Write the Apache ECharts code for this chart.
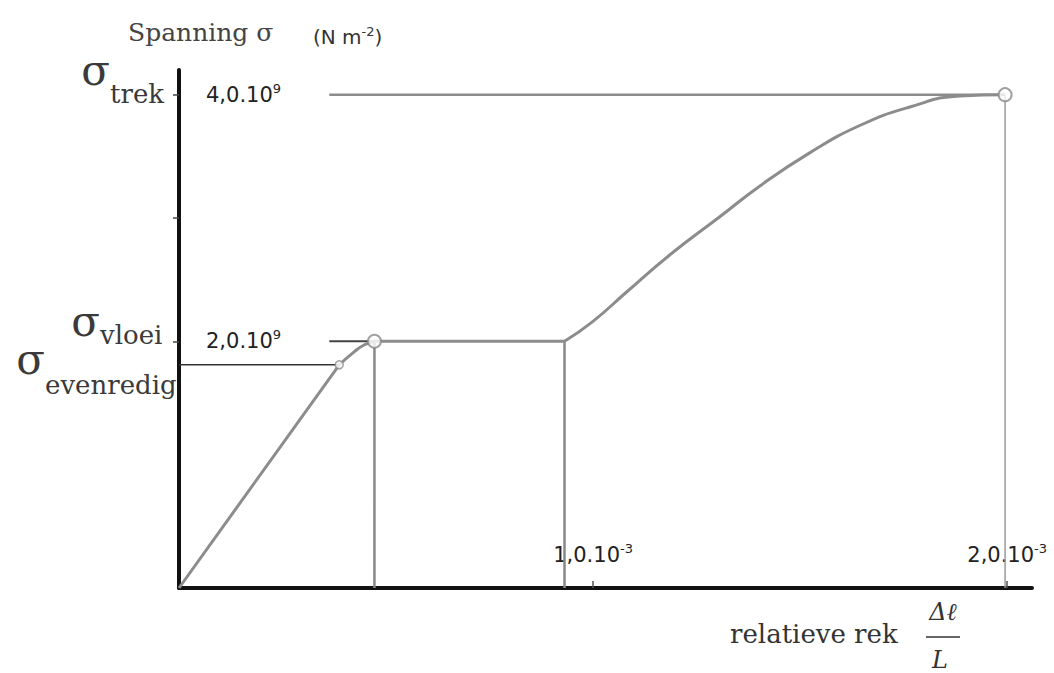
<!DOCTYPE html>
<html>
<head>
<meta charset="utf-8">
<script src="https://cdn.jsdelivr.net/npm/echarts@6/dist/echarts.min.js"></script>
<style>
  html, body { margin: 0; padding: 0; background: #ffffff; }
  #chart { width: 1054px; height: 673px; }
</style>
</head>
<body>
<div id="chart"></div>
<script>
// Schematic stress-strain curve (spanning tegen relatieve rek).
// Strain in units of 10^-3, stress in units of 10^9 N m^-2.

// linear-elastic part up to the proportional limit
const elasticStrain = [0, 0.387];
const elasticStress = [0, 1.81];
// curved transition up to the yield point
const kneeStrain = [0.387, 0.423, 0.447, 0.472];
const kneeStress = [1.81, 1.915, 1.97, 2.0];
// yield plateau
const plateauStrain = [0.472, 0.931];
const plateauStress = [2.0, 2.0];
// strain hardening up to the tensile strength
const hardeningStrain = [0.931, 0.999, 1.081, 1.185, 1.306, 1.403, 1.524, 1.644, 1.765, 1.886, 1.995];
const hardeningStress = [2.0, 2.16, 2.40, 2.70, 3.01, 3.26, 3.53, 3.75, 3.90, 3.99, 4.0];

// characteristic points
const strainProportional = 0.387, stressProportional = 1.81;
const strainYield = 0.472, stressYield = 2.0;
const strainHardening = 0.931;
const strainTensile = 1.995, stressTensile = 4.0;

// tick values and labels
const xTickValues = [1, 2];
const xTickMantissa = ['1,0.10', '2,0.10'];
const xTickExponent = '-3';
const yTickValues = [2, 4];
const yTickMantissa = ['2,0.10', '4,0.10'];
const yTickExponent = '9';
const yTickMarks = [2, 3, 4];

// where the guide lines from the value labels start (strain units)
const guideStart = 0.363;

const zip = (xs, ys) => xs.map((x, i) => [x, ys[i]]);

const SERIF = '"DejaVu Serif", "Liberation Serif", serif';
const SANS = '"DejaVu Sans", "Liberation Sans", sans-serif';

const chart = echarts.init(document.getElementById('chart'), null, { renderer: 'svg' });

function guide(data, color, width) {
  return {
    type: 'line', data: data, symbol: 'none', silent: true, z: 1,
    lineStyle: { color: color, width: width }
  };
}
function curve(data, smooth) {
  return {
    type: 'line', data: data, symbol: 'none', silent: true, z: 3,
    smooth: smooth ? 0.5 : false,
    lineStyle: { color: '#8c8c8c', width: 3 }
  };
}

const numberRich = {
  m: { fontFamily: SANS, fontSize: 21, color: '#222', lineHeight: 26 },
  s: { fontFamily: SANS, fontSize: 13, color: '#222', lineHeight: 13, verticalAlign: 'top' }
};

const option = {
  animation: false,
  backgroundColor: '#ffffff',
  grid: { left: 179, right: 22, top: 70, bottom: 85 },
  xAxis: {
    type: 'value', min: 0, max: 2.06,
    axisLine: { show: true, lineStyle: { color: '#111', width: 4 } },
    splitLine: { show: false },
    axisTick: { show: true, inside: true, length: 7, customValues: xTickValues,
      lineStyle: { color: '#555', width: 1.5 } },
    axisLabel: {
      show: true, inside: true, margin: 20, customValues: xTickValues,
      formatter: v => '{m|' + xTickMantissa[xTickValues.indexOf(v)] + '}{s|' + xTickExponent + '}',
      rich: numberRich
    }
  },
  yAxis: [{
    type: 'value', min: 0, max: 4.2,
    axisLine: { show: true, lineStyle: { color: '#111', width: 4 } },
    splitLine: { show: false },
    axisTick: { show: true, length: 6, customValues: yTickMarks,
      lineStyle: { color: '#444', width: 1.5 } },
    axisLabel: { show: false }
  }, {
    type: 'value', min: 0, max: 4.2, position: 'left',
    axisLine: { show: false }, axisTick: { show: false }, splitLine: { show: false },
    axisLabel: {
      show: true, inside: true, margin: 27, customValues: yTickValues,
      formatter: v => '{m|' + yTickMantissa[yTickValues.indexOf(v)] + '}{s|' + yTickExponent + '}',
      rich: numberRich
    }
  }],
  series: [
    // guide lines to the axes
    guide([[0, stressProportional], [strainProportional, stressProportional]], '#333', 1.5),
    guide([[guideStart, stressYield], [strainYield, stressYield]], '#444', 2),
    guide([[guideStart, stressTensile], [strainTensile, stressTensile]], '#8c8c8c', 2.5),
    guide([[strainYield, stressYield], [strainYield, 0]], '#888', 2.5),
    guide([[strainHardening, stressYield], [strainHardening, 0]], '#888', 2.5),
    guide([[strainTensile, stressTensile], [strainTensile, 0]], '#999', 1.5),
    // the curve itself
    curve(zip(elasticStrain, elasticStress), false),
    curve(zip(kneeStrain, kneeStress), true),
    curve(zip(plateauStrain, plateauStress), false),
    curve(zip(hardeningStrain, hardeningStress), true),
    // marked points
    {
      type: 'scatter', z: 5, silent: true, symbol: 'circle', symbolSize: 13,
      itemStyle: { color: '#fff', borderColor: '#8a8a8a', borderWidth: 2 },
      data: [[strainYield, stressYield], [strainTensile, stressTensile]]
    },
    {
      type: 'scatter', z: 5, silent: true, symbol: 'circle', symbolSize: 8,
      itemStyle: { color: '#fff', borderColor: '#8a8a8a', borderWidth: 1.5 },
      data: [[strainProportional, stressProportional]]
    }
  ]
};
chart.setOption(option);

// texts placed next to the axes, anchored to the stress levels
const yPx = v => chart.convertToPixel({ yAxisIndex: 0 }, v);
const sigmaFont = 'normal 42px ' + SERIF;
const subFont = 'normal 26px ' + SERIF;
const textColor = '#3a3a3a';

function sigmaLabel(name, value, split, dySigma, dySub) {
  const y = yPx(value);
  return [
    { type: 'text', x: split, y: y + dySigma, z: 10, silent: true,
      style: { text: 'σ', font: sigmaFont, fill: textColor, align: 'right', verticalAlign: 'middle' } },
    { type: 'text', x: split, y: y + dySub, z: 10, silent: true,
      style: { text: name, font: subFont, fill: textColor, align: 'left', verticalAlign: 'middle' } }
  ];
}

const graphics = [].concat(
  sigmaLabel('trek', stressTensile, 110, -24, -1),
  sigmaLabel('vloei', stressYield, 100, -20, -6),
  sigmaLabel('evenredig', stressProportional, 45, -5, 20),
  [
    { type: 'text', x: 128, y: 32, silent: true,
      style: { text: 'Spanning σ', font: 'normal 25px ' + SERIF, fill: '#444', align: 'left', verticalAlign: 'middle' } },
    { type: 'text', x: 313, y: 37, silent: true,
      style: { text: '{m|(N m}{s|-2}{m|)}', align: 'left', verticalAlign: 'middle',
        rich: {
          m: { fontFamily: SANS, fontSize: 20, fill: '#333', lineHeight: 24 },
          s: { fontFamily: SANS, fontSize: 13, fill: '#333', lineHeight: 13, verticalAlign: 'top' }
        } } },
    { type: 'text', x: 730, y: 634, silent: true,
      style: { text: 'relatieve rek', font: 'normal 26px ' + SERIF, fill: '#333', align: 'left', verticalAlign: 'middle' } },
    { type: 'text', x: 943, y: 612, silent: true,
      style: { text: 'Δℓ', font: 'italic 24px ' + SERIF, fill: '#333', align: 'center', verticalAlign: 'middle' } },
    { type: 'line', silent: true,
      shape: { x1: 926, y1: 637, x2: 960, y2: 637 }, style: { stroke: '#333', lineWidth: 1.5 } },
    { type: 'text', x: 940, y: 660, silent: true,
      style: { text: 'L', font: 'italic 24px ' + SERIF, fill: '#333', align: 'center', verticalAlign: 'middle' } }
  ]
);
chart.setOption({ graphic: { elements: graphics } });
</script>
</body>
</html>
